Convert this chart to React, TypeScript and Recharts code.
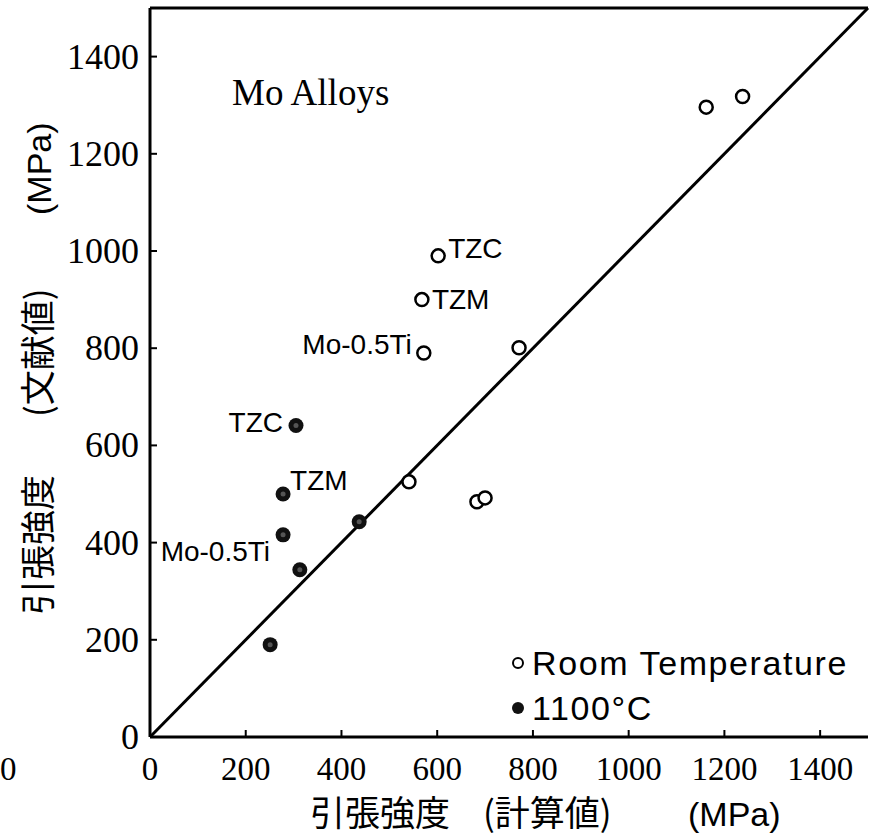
import React from 'react'
import {
  ScatterChart, Scatter, XAxis, YAxis, ReferenceLine, Legend,
} from 'recharts'

// ── Data (MPa) ────────────────────────────────────────────
// Room temperature: calculated vs literature tensile strength
const roomCalc = [1162, 1238, 602, 568, 572, 771, 541, 683, 700]
const roomLit = [1296, 1318, 990, 900, 790, 801, 525, 484, 492]
const roomNames = ['', '', 'TZC', 'TZM', 'Mo-0.5Ti', '', '', '', '']

// 1100°C
const hotCalc = [305, 278, 278, 313, 437, 251]
const hotLit = [641, 500, 416, 344, 443, 190]
const hotNames = ['TZC', 'TZM', 'Mo-0.5Ti', '', '', '']

const ticks = [0, 200, 400, 600, 800, 1000, 1200, 1400]
const axisMax = 1500

const roomData = roomCalc.map((c, i) => ({ calc: c, lit: roomLit[i], name: roomNames[i] }))
const hotData = hotCalc.map((c, i) => ({ calc: c, lit: hotLit[i], name: hotNames[i] }))

const SERIF = "'Liberation Serif', 'Times New Roman', serif"
const SANS = "'Liberation Sans', Arial, sans-serif"
const CJK = "'Noto Sans CJK JP', 'Noto Sans CJK SC', sans-serif"

// label placement next to the marker, per series
const roomLabelPos: Record<string, { dx: number; dy: number; anchor: 'start' | 'end' }> = {
  'TZC': { dx: 10, dy: 2, anchor: 'start' },
  'TZM': { dx: 10, dy: 9, anchor: 'start' },
  'Mo-0.5Ti': { dx: -12, dy: 1, anchor: 'end' },
}
const hotLabelPos: Record<string, { dx: number; dy: number; anchor: 'start' | 'end' }> = {
  'TZC': { dx: -13, dy: 7, anchor: 'end' },
  'TZM': { dx: 7, dy: -4, anchor: 'start' },
  'Mo-0.5Ti': { dx: -13, dy: 26, anchor: 'end' },
}

function PointLabel({ cx, cy, name, pos }: any) {
  if (!name || !pos[name]) return null
  const p = pos[name]
  return (
    <text x={cx + p.dx} y={cy + p.dy} textAnchor={p.anchor} fontFamily={SANS} fontSize={28} fill="#000">
      {name}
    </text>
  )
}

function OpenDot(props: any) {
  const { cx, cy, payload } = props
  return (
    <g>
      <circle cx={cx} cy={cy} r={6.5} fill="#fff" stroke="#000" strokeWidth={2.5} />
      <PointLabel cx={cx} cy={cy} name={payload?.name} pos={roomLabelPos} />
    </g>
  )
}

function FilledDot(props: any) {
  const { cx, cy, payload } = props
  return (
    <g>
      <circle cx={cx} cy={cy} r={7.5} fill="#111" />
      <circle cx={cx} cy={cy} r={2.5} fill="#555" />
      <PointLabel cx={cx} cy={cy} name={payload?.name} pos={hotLabelPos} />
    </g>
  )
}

// ── Ticks (pointing inward) ────────────────────────────────
function BottomTick({ x, y, payload }: any) {
  return (
    <g>
      <line x1={x} x2={x} y1={y} y2={y - 7} stroke="#000" strokeWidth={2} />
      <text x={x} y={y + 43} textAnchor="middle" fontFamily={SERIF} fontSize={33} fill="#000">
        {payload.value}
      </text>
    </g>
  )
}

function LeftTick({ x, y, payload }: any) {
  return (
    <g>
      <line x1={x} x2={x + 7} y1={y} y2={y} stroke="#000" strokeWidth={2} />
      <text x={x - 11} y={y + 12} textAnchor="end" fontFamily={SERIF} fontSize={36} fill="#000">
        {payload.value}
      </text>
    </g>
  )
}

function RightTick({ x, y }: any) {
  return <line x1={x} x2={x - 6} y1={y} y2={y} stroke="#000" strokeWidth={2} />
}

// ── Titles ────────────────────────────────────────────────
function XTitle({ viewBox }: any) {
  const { x, y } = viewBox
  return (
    <g>
      <text y={y + 89} fontFamily={CJK} fontSize={35} fill="#000">
        <tspan x={310}>引張強度</tspan>
        <tspan x={483}>(計算値)</tspan>
        <tspan x={688} fontFamily={SANS} fontSize={34}>(MPa)</tspan>
      </text>
      {/* stray label from the neighbouring panel */}
      <text x={0} y={y + 43} fontFamily={SERIF} fontSize={33} fill="#000">0</text>
      {/* panel title inside the plot */}
      <text x={x + 82} y={y - 632} fontFamily={SERIF} fontSize={37} fill="#000">Mo Alloys</text>
    </g>
  )
}

function YTitle() {
  return (
    <text transform="translate(51, 0) rotate(-90)" fontFamily={CJK} fontSize={35} fill="#000">
      <tspan x={-615}>引張強度</tspan>
      <tspan x={-417}>(文献値)</tspan>
      <tspan x={-215} fontFamily={SANS} fontSize={34}>(MPa)</tspan>
    </text>
  )
}

function LegendBox() {
  const row = { display: 'flex', alignItems: 'center', height: 45 }
  return (
    <div style={{ fontFamily: SANS, fontSize: 34, letterSpacing: '1.6px', color: '#000', lineHeight: 1 }}>
      <div style={row}>
        <svg width={24} height={20}><circle cx={10} cy={10} r={5} fill="#fff" stroke="#000" strokeWidth={2} /></svg>
        <span>Room Temperature</span>
      </div>
      <div style={row}>
        <svg width={24} height={20}><circle cx={10} cy={10} r={6} fill="#111" /></svg>
        <span>1100°C</span>
      </div>
    </div>
  )
}

export default function App() {
  return (
    <div style={{ position: 'absolute', left: 0, top: 0, background: '#fff' }}>
      <ScatterChart width={883} height={835} margin={{ top: 8, right: 15, bottom: 58, left: 90 }}>
        <XAxis
          xAxisId="main" dataKey="calc" type="number" domain={[0, axisMax]} ticks={ticks}
          allowDataOverflow height={40} tickSize={0} tickMargin={0}
          axisLine={{ stroke: '#000', strokeWidth: 3 }} tickLine={false} tick={<BottomTick />}
          label={{ content: <XTitle /> }}
        />
        <YAxis
          yAxisId="main" dataKey="lit" type="number" domain={[0, axisMax]} ticks={ticks}
          allowDataOverflow width={60} tickSize={0} tickMargin={0}
          axisLine={{ stroke: '#000', strokeWidth: 3 }} tickLine={false} tick={<LeftTick />}
          label={{ content: <YTitle /> }}
        />
        <YAxis
          yAxisId="right" orientation="right" type="number" domain={[0, axisMax]} ticks={ticks}
          allowDataOverflow width={0} tickSize={0} tickMargin={0}
          axisLine={{ stroke: '#000', strokeWidth: 3 }} tickLine={false} tick={<RightTick />}
        />
        {/* top frame line */}
        <ReferenceLine
          xAxisId="main" yAxisId="main" y={axisMax}
          stroke="#000" strokeWidth={3} ifOverflow="visible"
        />
        <ReferenceLine
          xAxisId="main" yAxisId="main"
          segment={[{ x: 0, y: 0 }, { x: axisMax, y: axisMax }]}
          stroke="#000" strokeWidth={3}
        />
        <Scatter
          name="Room Temperature" data={roomData} xAxisId="main" yAxisId="main"
          shape={<OpenDot />} isAnimationActive={false}
        />
        <Scatter
          name="1100°C" data={hotData} xAxisId="main" yAxisId="main"
          shape={<FilledDot />} isAnimationActive={false}
        />
        <Legend
          layout="vertical" align="center" verticalAlign="middle"
          content={<LegendBox />}
          wrapperStyle={{ left: 508, top: 640, width: 370 }}
        />
      </ScatterChart>
    </div>
  )
}
